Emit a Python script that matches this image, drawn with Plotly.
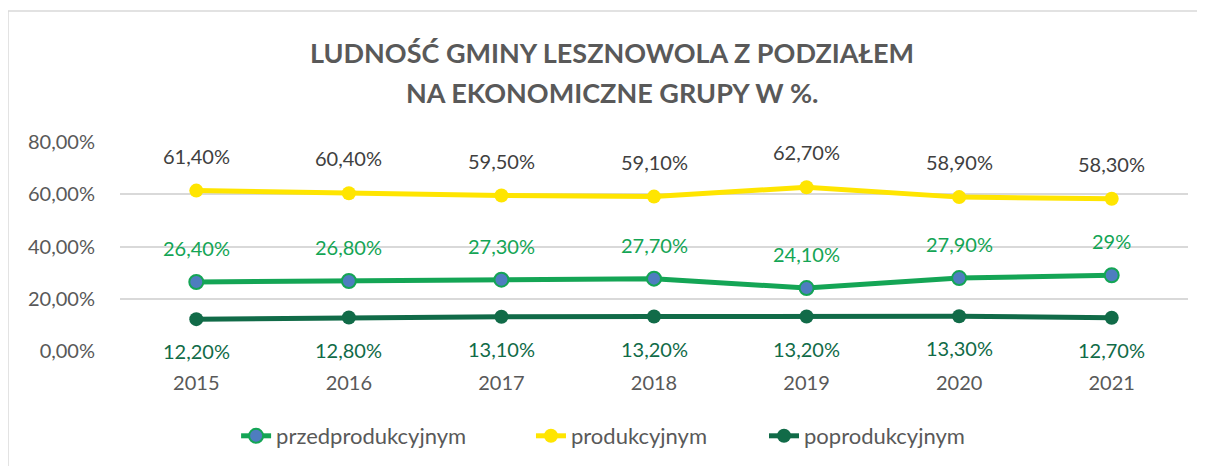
import plotly.graph_objects as go

years = ["2015", "2016", "2017", "2018", "2019", "2020", "2021"]

przed = [26.4, 26.8, 27.3, 27.7, 24.1, 27.9, 29.0]
prod = [61.4, 60.4, 59.5, 59.1, 62.7, 58.9, 58.3]
poprod = [12.2, 12.8, 13.1, 13.2, 13.2, 13.3, 12.7]

przed_labels = ["26,40%", "26,80%", "27,30%", "27,70%", "24,10%", "27,90%", "29%"]
prod_labels = ["61,40%", "60,40%", "59,50%", "59,10%", "62,70%", "58,90%", "58,30%"]
poprod_labels = ["12,20%", "12,80%", "13,10%", "13,20%", "13,20%", "13,30%", "12,70%"]

y_ticks = [0, 20, 40, 60, 80]
y_ticktext = ["0,00%", "20,00%", "40,00%", "60,00%", "80,00%"]

FONT = "Lato"
GREY = "#595959"
C_PRZED = "#14A555"
C_PROD = "#FFE500"
C_POPROD = "#116B48"

# category positions (string x collapsed on this renderer, so indices + tick text)
xpos = list(range(len(years)))

fig = go.Figure()

fig.add_trace(go.Scatter(
    x=xpos, y=przed, name="przedprodukcyjnym", mode="lines+markers",
    line=dict(color=C_PRZED, width=5),
    marker=dict(size=14, color="#4E7DBF", line=dict(color=C_PRZED, width=2)),
    legend="legend",
))
fig.add_trace(go.Scatter(
    x=xpos, y=prod, name="produkcyjnym", mode="lines+markers",
    line=dict(color=C_PROD, width=5),
    marker=dict(size=14, color=C_PROD),
    legend="legend2",
))
fig.add_trace(go.Scatter(
    x=xpos, y=poprod, name="poprodukcyjnym", mode="lines+markers",
    line=dict(color=C_POPROD, width=5),
    marker=dict(size=14, color=C_POPROD),
    legend="legend3",
))

# data labels
for vals, labels, color, shift in [
    (prod, prod_labels, "#404040", 35),
    (przed, przed_labels, C_PRZED, 34),
    (poprod, poprod_labels, C_POPROD, -32),
]:
    for x, y, t in zip(xpos, vals, labels):
        fig.add_annotation(x=x, y=y, xref="x", yref="y", text=t, showarrow=False, yshift=shift,
                           font=dict(family=FONT, size=20, color=color))

# title, two lines
for ty, txt in [(1.4306, "<b>LUDNOŚĆ GMINY LESZNOWOLA Z PODZIAŁEM</b>"),
                (1.2392, "<b>NA EKONOMICZNE GRUPY W %.</b>")]:
    fig.add_annotation(x=0.4607, y=ty, xref="paper", yref="paper", showarrow=False,
                       xanchor="center", yanchor="middle", text=txt,
                       font=dict(family=FONT, size=27, color=GREY))

# outer border of chart area
fig.add_shape(type="rect", xref="paper", yref="paper",
              x0=-0.1049, x1=1.05, y0=-0.6, y1=1.6268,
              line=dict(color="#D9D9D9", width=1.5), layer="below")

leg = dict(orientation="h", y=-0.4067, yanchor="middle", xanchor="left",
           font=dict(family=FONT, size=22, color=GREY), bgcolor="rgba(0,0,0,0)")

# page body has an 8px margin, so the plot area is shifted up/left by 8px
fig.update_layout(
    width=1205, height=466,
    margin=dict(l=112, r=25, t=134, b=123, autoexpand=False),
    paper_bgcolor="white", plot_bgcolor="white",
    font=dict(family=FONT, color=GREY),
    xaxis=dict(
        range=[-0.5, len(years) - 0.5], tickvals=xpos, ticktext=years,
        showgrid=False, showline=False, zeroline=False,
        ticks="outside", ticklen=14, tickcolor="rgba(0,0,0,0)",
        tickfont=dict(family=FONT, size=20, color=GREY),
    ),
    yaxis=dict(
        range=[0, 80], tickvals=y_ticks, ticktext=y_ticktext,
        showgrid=True, gridcolor="#D9D9D9", gridwidth=1.5,
        zeroline=False, showline=False,
        ticks="outside", ticklen=20, tickcolor="rgba(0,0,0,0)",
        tickfont=dict(family=FONT, size=20, color=GREY),
    ),
    legend=dict(leg, x=0.1087),
    legend2=dict(leg, x=0.3848),
    legend3=dict(leg, x=0.603),
    showlegend=True,
)

fig.write_html("out.html")
